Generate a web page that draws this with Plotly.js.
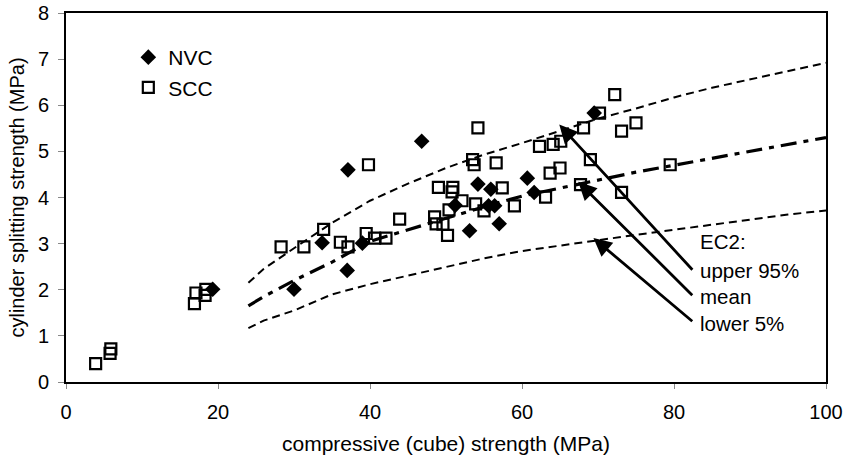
<!DOCTYPE html>
<html>
<head>
<meta charset="utf-8">
<script src="https://cdn.plot.ly/plotly-3.0.1.min.js"></script>
<style>
  html, body { margin: 0; padding: 0; background: #fff; }
  #chart { width: 848px; height: 466px; }
</style>
</head>
<body>
<div id="chart"></div>
<script>
// Normal vibrated concrete (NVC) test results
const nvcCube = [19.3, 30.0, 33.7, 37.0, 37.1, 39.0, 46.8, 51.2, 53.1, 54.2, 55.6, 55.9, 56.4, 57.0, 60.7, 61.6, 69.5];
const nvcSplit = [2.01, 2.01, 3.02, 2.42, 4.60, 3.01, 5.22, 3.83, 3.28, 4.29, 3.82, 4.18, 3.82, 3.43, 4.42, 4.11, 5.83];

// Self-compacting concrete (SCC) test results
const sccCube = [3.9, 5.8, 5.9, 16.9, 17.1, 18.3, 18.4, 28.3, 31.3, 33.9, 36.1, 37.1, 39.5, 39.8, 40.6, 42.1,
  43.9, 48.5, 48.7, 49.0, 49.6, 50.2, 50.4, 50.8, 50.9, 52.1, 53.5, 53.7, 53.9, 54.2, 55.0, 56.6, 57.4, 59.0,
  62.3, 63.1, 63.7, 64.1, 65.0, 65.1, 67.7, 68.1, 69.0, 70.2, 72.2, 73.1, 73.1, 75.0, 79.5];
const sccSplit = [0.40, 0.62, 0.72, 1.70, 1.93, 1.88, 2.01, 2.93, 2.93, 3.31, 3.03, 2.93, 3.22, 4.71, 3.12, 3.12,
  3.53, 3.58, 3.43, 4.22, 3.42, 3.18, 3.73, 4.12, 4.22, 3.93, 4.82, 4.71, 3.86, 5.51, 3.71, 4.75, 4.21, 3.82,
  5.11, 4.01, 4.53, 5.15, 4.64, 5.22, 4.28, 5.51, 4.82, 5.83, 6.23, 5.44, 4.11, 5.62, 4.71];

// EC2 splitting strength curves
const ec2Cube = [24, 26, 30, 35, 40, 45, 50, 55, 60, 65, 70, 75, 80, 85, 90, 95, 100];
const ec2Upper = [2.15, 2.45, 2.90, 3.45, 3.93, 4.30, 4.64, 4.93, 5.18, 5.45, 5.71, 5.93, 6.17, 6.38, 6.56, 6.75, 6.92];
const ec2Mean = [1.65, 1.85, 2.20, 2.60, 3.05, 3.30, 3.55, 3.80, 4.03, 4.20, 4.38, 4.55, 4.70, 4.85, 5.00, 5.15, 5.30];
const ec2Lower = [1.17, 1.33, 1.55, 1.90, 2.12, 2.31, 2.49, 2.68, 2.84, 2.96, 3.07, 3.19, 3.30, 3.41, 3.52, 3.63, 3.72];

// Arrow pointers: label anchor (tail) and curve point (tip)
const arrowTipX = [64.9, 67.4, 69.4];
const arrowTipY = [5.58, 4.34, 3.12];
const arrowTailX = [82.6, 82.6, 82.6];
const arrowTailY = [2.40, 1.85, 1.29];
const labelText = ['EC2:', 'upper 95%', 'mean', 'lower 5%'];
const labelY = [3.05, 2.42, 1.86, 1.27];

const font = 'Liberation Sans, Arial, sans-serif';

const traces = [
  {
    x: ec2Cube, y: ec2Upper, mode: 'lines', showlegend: false, hoverinfo: 'skip',
    line: { color: '#000', width: 2, dash: '8px,5px' }
  },
  {
    x: ec2Cube, y: ec2Mean, mode: 'lines', showlegend: false, hoverinfo: 'skip',
    line: { color: '#000', width: 3.2, dash: '16px,7px,5px,7px' }
  },
  {
    x: ec2Cube, y: ec2Lower, mode: 'lines', showlegend: false, hoverinfo: 'skip',
    line: { color: '#000', width: 2, dash: '8px,5px' }
  },
  {
    x: nvcCube, y: nvcSplit, mode: 'markers', name: 'NVC', legendgroup: 'nvc',
    marker: { symbol: 'diamond', size: 12, color: '#000' }
  },
  {
    x: sccCube, y: sccSplit, mode: 'markers', name: 'SCC', legendgroup: 'scc',
    marker: { symbol: 'square-open', size: 11, color: '#000', line: { width: 2.2, color: '#000' } }
  }
];

const annotations = [];
for (let i = 0; i < arrowTipX.length; i++) {
  annotations.push({
    x: arrowTipX[i], y: arrowTipY[i], xref: 'x', yref: 'y',
    ax: arrowTailX[i], ay: arrowTailY[i], axref: 'x', ayref: 'y',
    text: '', showarrow: true, arrowhead: 2, arrowsize: 1.3, arrowwidth: 2.8, arrowcolor: '#000'
  });
}
for (let i = 0; i < labelText.length; i++) {
  annotations.push({
    x: 83.2, y: labelY[i], xref: 'x', yref: 'y', xanchor: 'left', yanchor: 'middle',
    text: labelText[i], showarrow: false, font: { family: font, size: 20.5, color: '#000' }
  });
}

const layout = {
  width: 848, height: 466,
  margin: { l: 66, r: 22, t: 13, b: 84 },
  paper_bgcolor: '#fff', plot_bgcolor: '#fff',
  font: { family: font, size: 20, color: '#000' },
  showlegend: true,
  legend: {
    x: 0.082, y: 0.935, xanchor: 'left', yanchor: 'top',
    bgcolor: 'rgba(0,0,0,0)', font: { family: font, size: 21 },
    tracegroupgap: 0, itemwidth: 30
  },
  xaxis: {
    range: [0, 100], dtick: 20, showgrid: false, zeroline: false,
    showline: true, linecolor: '#000', linewidth: 2, mirror: true,
    ticks: 'outside', ticklen: 5, tickcolor: '#888', tickwidth: 1,
    ticklabelstandoff: 6,
    tickfont: { family: font, size: 20 },
    title: { text: 'compressive (cube) strength (MPa)', font: { family: font, size: 21 }, standoff: 14 }
  },
  yaxis: {
    range: [0, 8], dtick: 1, showgrid: false, zeroline: false,
    showline: true, linecolor: '#000', linewidth: 2, mirror: true,
    ticks: 'outside', ticklen: 6, tickcolor: '#888', tickwidth: 1,
    ticklabelstandoff: 5,
    tickfont: { family: font, size: 20 },
    title: { text: 'cylinder splitting strength (MPa)', font: { family: font, size: 20 }, standoff: 8 }
  },
  annotations: annotations
};

Plotly.newPlot('chart', traces, layout, { displayModeBar: false, staticPlot: true });
</script>
</body>
</html>
